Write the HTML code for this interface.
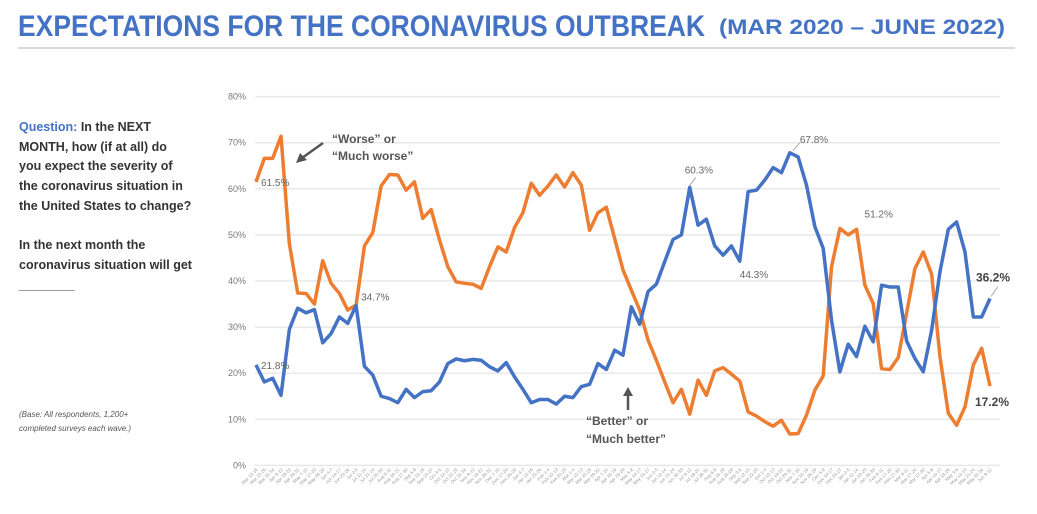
<!DOCTYPE html>
<html><head><meta charset="utf-8"><style>
html,body{margin:0;padding:0;background:#fff;}
body{width:1037px;height:514px;overflow:hidden;position:relative;font-family:"Liberation Sans",sans-serif;}
.q{position:absolute;left:19px;top:118px;font-size:12.5px;font-weight:bold;color:#333;line-height:19.7px;}
.base{position:absolute;left:19px;top:408px;font-size:8px;font-style:italic;color:#555;line-height:14px;}
</style></head><body>
<svg width="1037" height="55" style="position:absolute;left:0;top:0">
<text x="18" y="36" font-family="Liberation Sans" font-weight="bold" font-size="30" fill="#4472c4" textLength="687" lengthAdjust="spacingAndGlyphs">EXPECTATIONS FOR THE CORONAVIRUS OUTBREAK</text>
<text x="719" y="34" font-family="Liberation Sans" font-weight="bold" font-size="21" fill="#4472c4" textLength="286" lengthAdjust="spacingAndGlyphs">(MAR 2020 – JUNE 2022)</text>
<line x1="18" y1="48" x2="1015" y2="48" stroke="#ccc" stroke-width="1.5"/>
</svg>
<div class="q"><span style="color:#4472c4">Question:</span> In the NEXT<br>MONTH, how (if at all) do<br>you expect the severity of<br>the coronavirus situation in<br>the United States to change?<br><br>In the next month the<br>coronavirus situation will get<br>________</div>
<div class="base">(Base: All respondents, 1,200+<br>completed surveys each wave.)</div>
<svg id="chart" width="1037" height="514" style="position:absolute;left:0;top:0"></svg>
<script>
const worse=[61.5,66.6,66.6,71.4,48.1,37.4,37.3,35.0,44.4,39.5,37.3,33.7,34.8,47.6,50.5,60.6,63.1,63.0,59.7,61.5,53.6,55.5,48.9,43.1,39.8,39.5,39.3,38.4,43.1,47.4,46.3,51.6,54.8,61.2,58.6,60.6,63.0,60.4,63.5,60.8,51.0,54.8,56.0,49.2,42.4,38.0,
33.7,27.2,22.8,18.1,13.6,16.5,11.1,18.5,15.2,20.5,21.2,19.8,18.3,11.6,10.7,9.5,8.5,9.8,6.8,6.9,10.9,16.3,19.4,43.1,51.4,50.0,51.2,39.1,35.1,21.0,20.8,23.4,33.0,42.7,46.3,41.5,23.6,11.3,8.7,12.7,21.8,25.4,17.2];
const better=[21.8,18.1,18.9,15.2,29.5,34.1,33.1,33.8,26.6,28.6,32.2,30.8,34.7,21.5,19.6,15.0,14.5,13.6,16.5,14.7,16.0,16.2,18.1,22.1,23.1,22.7,23.0,22.8,21.4,20.5,22.3,19.2,16.5,13.6,14.3,14.3,13.3,15.0,14.7,17.1,17.6,22.1,20.8,25.0,23.9,34.4,
30.6,37.7,39.3,44.2,49.0,50.0,60.3,52.1,53.4,47.6,45.6,47.6,44.3,59.4,59.7,61.9,64.6,63.5,67.8,66.9,60.8,51.8,47.1,31.5,20.3,26.3,23.6,30.2,26.8,39.1,38.7,38.7,27.0,23.2,20.3,29.3,42.0,51.2,52.8,46.3,32.2,32.2,36.2];
const yTicks=[0,10,20,30,40,50,60,70,80];
const months=["Jan","Feb","Mar","Apr","May","Jun","Jul","Aug","Sep","Oct","Nov","Dec"];
const categories=[];
(function(){let d=new Date(2020,2,13);for(let i=0;i<worse.length;i++){categories.push(months[d.getMonth()]+" "+d.getDate()+"-"+(d.getDate()+3));d=new Date(d.getTime()+9.3*864e5);}})();
const svg=document.getElementById('chart');const NS='http://www.w3.org/2000/svg';
const x0=256,x1=990,y0=465.4,yPer=4.61;
const xS=i=>x0+(x1-x0)*i/(worse.length-1);
const yS=v=>y0-v*yPer;
function mk(t,a,txt){const e=document.createElementNS(NS,t);for(const k in a)e.setAttribute(k,a[k]);if(txt!=null)e.textContent=txt;svg.appendChild(e);return e;}
yTicks.forEach(v=>{
 const g=mk('line',{x1:255,x2:1000,y1:yS(v),y2:yS(v),stroke:'#e8e8e8','stroke-width':1.5});
 
 
 const t=mk('text',{x:246,y:yS(v)+3,'text-anchor':'end','font-size':9,fill:'#777'},v+'%');
 
 
});
categories.forEach((c,i)=>{
 const t=mk('text',{x:xS(i)+2,y:470,'text-anchor':'end','font-size':4.5,fill:'#999',transform:'rotate(-45 '+(xS(i)+2)+' 470)'},c);
 
 
});
function line(arr,col,name){
 const p=mk('polyline',{points:arr.map((v,i)=>xS(i)+','+yS(v)).join(' '),fill:'none',stroke:col,'stroke-width':3.5,'stroke-linejoin':'round'});
 
 
}
line(worse,'#ed7d31','worse-series-line');
line(better,'#4472c4','better-series-line');
function lab(i,arr,dx,dy,txt,big,name){
 const t=mk('text',{x:xS(i)+dx,y:yS(arr[i])+dy,'font-size':big?12:10,'font-weight':big?'bold':'normal',fill:big?'#444':'#666'},txt);
 
 
}
lab(0,worse,5,4,worse[0]+'%',0,'label-worse-start');
lab(0,better,5,4,better[0]+'%',0,'label-better-start');
lab(12,better,5,-5,better[12]+'%',0,'label-better-34');
lab(52,better,-5,-14,better[52]+'%',0,'label-better-60');
lab(58,better,0,17,better[58]+'%',0,'label-better-44');
lab(64,better,10,-10,better[64]+'%',0,'label-better-67');
lab(72,worse,8,-12,worse[72]+'%',0,'label-worse-51');
lab(88,better,-14,-17,better[88]+'%',1,'label-better-end');
lab(88,worse,-15,20,worse[88]+'%',1,'label-worse-end');
mk('line',{x1:xS(64)+3,y1:yS(better[64])-2,x2:xS(64)+10,y2:yS(better[64])-10,stroke:'#aaa'});
mk('line',{x1:xS(52),y1:yS(better[52])-2,x2:xS(52)+6,y2:yS(better[52])-10,stroke:'#aaa'});
mk('line',{x1:xS(88)+1,y1:yS(better[88])-2,x2:xS(88)+8,y2:yS(better[88])-12,stroke:'#aaa'});
const a1=mk('text',{x:332,y:143,'font-size':12,'font-weight':'bold',fill:'#555'},'“Worse” or');

mk('text',{x:332,y:160,'font-size':12,'font-weight':'bold',fill:'#555'},'“Much worse”');
mk('line',{x1:323,y1:143,x2:302,y2:158,stroke:'#555','stroke-width':2.5});
mk('polygon',{points:'296,163 300,153 307,160',fill:'#555'});
const a2=mk('text',{x:586,y:425,'font-size':12,'font-weight':'bold',fill:'#555'},'“Better” or');

mk('text',{x:586,y:443,'font-size':12,'font-weight':'bold',fill:'#555'},'“Much better”');
mk('line',{x1:628,y1:410,x2:628,y2:394,stroke:'#555','stroke-width':2.5});
mk('polygon',{points:'623,396 633,396 628,387',fill:'#555'});
</script>
</body></html>
